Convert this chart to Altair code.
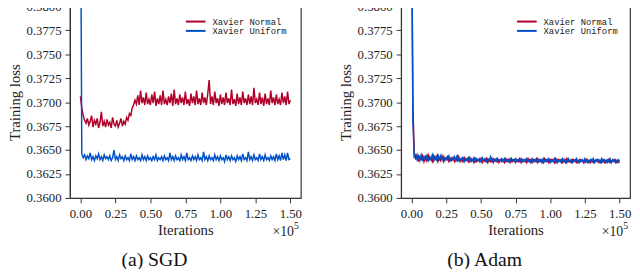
import altair as alt
import pandas as pd

# iterations, in thousands
iters = [0, 1, 2, 3, 4, 5, 6, 7, 8, 9,
         10, 11, 12, 13, 14, 15, 16, 17, 18, 19,
         20, 21, 22, 23, 24, 25, 26, 27, 28, 29,
         30, 31, 32, 33, 34, 35, 36, 37, 38, 39,
         40, 41, 42, 43, 44, 45, 46, 47, 48, 49,
         50, 51, 52, 53, 54, 55, 56, 57, 58, 59,
         60, 61, 62, 63, 64, 65, 66, 67, 68, 69,
         70, 71, 72, 73, 74, 75, 76, 77, 78, 79,
         80, 81, 82, 83, 84, 85, 86, 87, 88, 89,
         90, 91, 92, 93, 94, 95, 96, 97, 98, 99,
         100, 101, 102, 103, 104, 105, 106, 107, 108, 109,
         110, 111, 112, 113, 114, 115, 116, 117, 118, 119,
         120, 121, 122, 123, 124, 125, 126, 127, 128, 129,
         130, 131, 132, 133, 134, 135, 136, 137, 138, 139,
         140, 141, 142, 143, 144, 145, 146, 147, 148, 149,
         150]

sgd_normal = [0.3706, 0.3694, 0.3686, 0.3681, 0.3678, 0.3683, 0.3676, 0.3680, 0.3686, 0.3674,
              0.3681, 0.3677, 0.3683, 0.3673, 0.3679, 0.3690, 0.3675, 0.3680, 0.3674, 0.3682,
              0.3676, 0.3679, 0.3673, 0.3684, 0.3677, 0.3675, 0.3681, 0.3674, 0.3678, 0.3683,
              0.3675, 0.3680, 0.3677, 0.3684, 0.3681, 0.3688, 0.3686, 0.3694, 0.3697, 0.3702,
              0.3698, 0.3707, 0.3697, 0.3712, 0.3699, 0.3705, 0.3697, 0.3710, 0.3698, 0.3703,
              0.3697, 0.3708, 0.3699, 0.3711, 0.3696, 0.3704, 0.3698, 0.3707, 0.3697, 0.3712,
              0.3698, 0.3703, 0.3697, 0.3706, 0.3699, 0.3709, 0.3696, 0.3713, 0.3698, 0.3704,
              0.3697, 0.3708, 0.3699, 0.3705, 0.3697, 0.3711, 0.3698, 0.3703, 0.3696, 0.3709,
              0.3699, 0.3706, 0.3697, 0.3712, 0.3698, 0.3704, 0.3697, 0.3710, 0.3699, 0.3705,
              0.3697, 0.3709, 0.3723, 0.3698, 0.3706, 0.3697, 0.3711, 0.3699, 0.3704, 0.3696,
              0.3708, 0.3698, 0.3705, 0.3697, 0.3710, 0.3699, 0.3704, 0.3697, 0.3713, 0.3698,
              0.3703, 0.3696, 0.3709, 0.3698, 0.3705, 0.3697, 0.3711, 0.3699, 0.3704, 0.3697,
              0.3708, 0.3698, 0.3706, 0.3697, 0.3715, 0.3699, 0.3703, 0.3697, 0.3710, 0.3698,
              0.3705, 0.3696, 0.3709, 0.3698, 0.3704, 0.3697, 0.3712, 0.3699, 0.3705, 0.3697,
              0.3708, 0.3698, 0.3703, 0.3697, 0.3710, 0.3699, 0.3706, 0.3697, 0.3711, 0.3698,
              0.3702]

sgd_uniform = [0.3950, 0.3646, 0.3642, 0.3645, 0.3640, 0.3644, 0.3641, 0.3647, 0.3640, 0.3643,
               0.3639, 0.3644, 0.3641, 0.3646, 0.3640, 0.3643, 0.3639, 0.3645, 0.3641, 0.3643,
               0.3640, 0.3644, 0.3639, 0.3642, 0.3650, 0.3640, 0.3643, 0.3639, 0.3645, 0.3641,
               0.3643, 0.3639, 0.3644, 0.3640, 0.3642, 0.3639, 0.3646, 0.3640, 0.3643, 0.3639,
               0.3644, 0.3640, 0.3642, 0.3639, 0.3645, 0.3640, 0.3643, 0.3639, 0.3644, 0.3640,
               0.3642, 0.3639, 0.3643, 0.3640, 0.3645, 0.3639, 0.3642, 0.3640, 0.3643, 0.3639,
               0.3644, 0.3640, 0.3642, 0.3639, 0.3647, 0.3640, 0.3643, 0.3639, 0.3644, 0.3640,
               0.3642, 0.3639, 0.3645, 0.3640, 0.3643, 0.3639, 0.3647, 0.3640, 0.3642, 0.3639,
               0.3644, 0.3640, 0.3643, 0.3639, 0.3645, 0.3640, 0.3642, 0.3639, 0.3648, 0.3640,
               0.3643, 0.3639, 0.3644, 0.3640, 0.3642, 0.3639, 0.3645, 0.3640, 0.3643, 0.3639,
               0.3644, 0.3640, 0.3642, 0.3638, 0.3645, 0.3640, 0.3643, 0.3639, 0.3644, 0.3640,
               0.3642, 0.3638, 0.3644, 0.3640, 0.3643, 0.3639, 0.3646, 0.3640, 0.3642, 0.3639,
               0.3648, 0.3640, 0.3643, 0.3639, 0.3645, 0.3640, 0.3642, 0.3639, 0.3646, 0.3640,
               0.3643, 0.3639, 0.3645, 0.3640, 0.3642, 0.3639, 0.3644, 0.3640, 0.3643, 0.3639,
               0.3646, 0.3640, 0.3644, 0.3639, 0.3647, 0.3640, 0.3645, 0.3639, 0.3647, 0.3640,
               0.3641]

adam_normal = [0.3900, 0.3700, 0.3644, 0.3641, 0.3645, 0.3638, 0.3643, 0.3640, 0.3644, 0.3638,
               0.3643, 0.3639, 0.3645, 0.3640, 0.3642, 0.3638, 0.3644, 0.3640, 0.3643, 0.3638,
               0.3642, 0.3639, 0.3644, 0.3638, 0.3642, 0.3640, 0.3643, 0.3638, 0.3641, 0.3639,
               0.3642, 0.3638, 0.3641, 0.3639, 0.3643, 0.3638, 0.3641, 0.3638, 0.3642, 0.3639,
               0.3641, 0.3638, 0.3642, 0.3638, 0.3640, 0.3637, 0.3641, 0.3638, 0.3640, 0.3638,
               0.3641, 0.3637, 0.3640, 0.3638, 0.3641, 0.3637, 0.3640, 0.3638, 0.3641, 0.3637,
               0.3640, 0.3638, 0.3641, 0.3637, 0.3640, 0.3638, 0.3640, 0.3637, 0.3641, 0.3638,
               0.3640, 0.3637, 0.3641, 0.3638, 0.3640, 0.3637, 0.3640, 0.3638, 0.3641, 0.3637,
               0.3640, 0.3638, 0.3640, 0.3637, 0.3641, 0.3638, 0.3640, 0.3637, 0.3640, 0.3638,
               0.3641, 0.3637, 0.3640, 0.3638, 0.3640, 0.3637, 0.3641, 0.3638, 0.3640, 0.3637,
               0.3640, 0.3638, 0.3640, 0.3637, 0.3641, 0.3637, 0.3640, 0.3638, 0.3640, 0.3637,
               0.3640, 0.3637, 0.3641, 0.3638, 0.3639, 0.3637, 0.3640, 0.3638, 0.3640, 0.3637,
               0.3639, 0.3637, 0.3640, 0.3638, 0.3639, 0.3637, 0.3640, 0.3637, 0.3639, 0.3637,
               0.3640, 0.3637, 0.3639, 0.3638, 0.3640, 0.3637, 0.3639, 0.3637, 0.3640, 0.3637,
               0.3639, 0.3637, 0.3640, 0.3637, 0.3639, 0.3638, 0.3640, 0.3637, 0.3639, 0.3637,
               0.3638]

adam_uniform = [0.3950, 0.3680, 0.3643, 0.3645, 0.3640, 0.3644, 0.3639, 0.3645, 0.3640, 0.3643,
                0.3640, 0.3644, 0.3639, 0.3643, 0.3640, 0.3645, 0.3639, 0.3643, 0.3640, 0.3646,
                0.3639, 0.3644, 0.3640, 0.3643, 0.3639, 0.3642, 0.3640, 0.3644, 0.3639, 0.3642,
                0.3640, 0.3643, 0.3639, 0.3645, 0.3639, 0.3641, 0.3639, 0.3642, 0.3638, 0.3641,
                0.3639, 0.3642, 0.3638, 0.3641, 0.3639, 0.3642, 0.3638, 0.3641, 0.3639, 0.3641,
                0.3638, 0.3642, 0.3639, 0.3641, 0.3638, 0.3641, 0.3639, 0.3643, 0.3638, 0.3641,
                0.3639, 0.3641, 0.3638, 0.3640, 0.3639, 0.3641, 0.3638, 0.3641, 0.3638, 0.3640,
                0.3638, 0.3641, 0.3638, 0.3640, 0.3639, 0.3641, 0.3638, 0.3640, 0.3638, 0.3641,
                0.3638, 0.3640, 0.3638, 0.3641, 0.3638, 0.3640, 0.3637, 0.3641, 0.3638, 0.3640,
                0.3638, 0.3641, 0.3638, 0.3640, 0.3637, 0.3641, 0.3638, 0.3640, 0.3638, 0.3641,
                0.3637, 0.3640, 0.3638, 0.3641, 0.3637, 0.3640, 0.3638, 0.3640, 0.3637, 0.3641,
                0.3638, 0.3640, 0.3637, 0.3641, 0.3638, 0.3640, 0.3637, 0.3640, 0.3638, 0.3641,
                0.3637, 0.3640, 0.3638, 0.3640, 0.3637, 0.3641, 0.3638, 0.3640, 0.3637, 0.3640,
                0.3638, 0.3641, 0.3637, 0.3640, 0.3638, 0.3640, 0.3637, 0.3641, 0.3638, 0.3640,
                0.3637, 0.3640, 0.3638, 0.3641, 0.3637, 0.3640, 0.3638, 0.3640, 0.3637, 0.3640,
                0.3638]

inits = ["Xavier Normal", "Xavier Uniform"]
colors = ["#b0002a", "#0050c8"]
captions = ["(a) SGD", "(b) Adam"]
y_ticks = [0.36, 0.3625, 0.365, 0.3675, 0.37, 0.3725, 0.375, 0.3775, 0.38]
x_ticks = [0, 25, 50, 75, 100, 125, 150]

SERIF = "Liberation Serif"
MONO = "Liberation Mono"


def panel(normal, uniform, caption, w, h):
    xenc = alt.X("iter:Q",
                 scale=alt.Scale(domain=[-7.5, 157.5], nice=False, zero=False),
                 axis=alt.Axis(values=x_ticks, title="Iterations",
                               labelExpr="format(datum.value / 100, '.2f')",
                               labelPadding=5, titlePadding=2))
    yenc = alt.Y("loss:Q",
                 scale=alt.Scale(domain=[0.36, 0.38], nice=False, zero=False),
                 axis=alt.Axis(values=y_ticks, format=".4f", title="Training loss",
                               labelPadding=4, titlePadding=4))
    layers = []
    for vals, name, col in ((normal, inits[0], colors[0]), (uniform, inits[1], colors[1])):
        df = pd.DataFrame({"iter": iters, "loss": vals, "init": name})
        layers.append(alt.Chart(df).mark_line(strokeWidth=1.5, clip=True, color=col)
                      .encode(x=xenc, y=yenc))
    for i, name in enumerate(inits):
        ld = pd.DataFrame({"init": [name]})
        layers.append(alt.Chart(ld).mark_rule(strokeWidth=2, color=colors[i]).encode(
            x=alt.value(118), x2=alt.value(138), y=alt.value(15.5 + 9.5 * i)))
        layers.append(alt.Chart(ld).mark_text(align="left", baseline="middle", font=MONO,
                                              fontSize=9, color="#222").encode(
            x=alt.value(145), y=alt.value(15.5 + 9.5 * i), text="init:N"))
    ld = pd.DataFrame({"t": ["\u00d710"], "e": ["5"]})
    layers.append(alt.Chart(ld).mark_text(align="right", baseline="middle", font=SERIF,
                                          fontSize=14, color="#222").encode(
        x=alt.value(w - 7), y=alt.value(h + 35), text="t:N"))
    layers.append(alt.Chart(ld).mark_text(align="left", baseline="middle", font=SERIF,
                                          fontSize=10, color="#222").encode(
        x=alt.value(w - 7), y=alt.value(h + 29), text="e:N"))
    return alt.layer(*layers).properties(
        width=w, height=h,
        title=alt.TitleParams(caption, orient="bottom", anchor="middle", frame="bounds",
                              font=SERIF, fontSize=20, fontWeight="normal",
                              color="#111", offset=11))


left = panel(sgd_normal, sgd_uniform, captions[0], 235, 195)
right = panel(adam_normal, adam_uniform, captions[1], 233, 195)

chart = alt.hconcat(left, right, spacing=35).properties(
    padding={"left": -2, "top": -11, "right": 0, "bottom": -4}
).configure_view(stroke="#333", strokeWidth=1.2).configure_axis(
    grid=False, domainColor="#333", tickColor="#333", tickSize=5,
    labelFont=SERIF, labelFontSize=13, labelColor="#222",
    titleFont=SERIF, titleFontSize=15, titleFontWeight="normal", titleColor="#222"
)

chart.save("out.html", embed_options={"renderer": "svg", "actions": False})
